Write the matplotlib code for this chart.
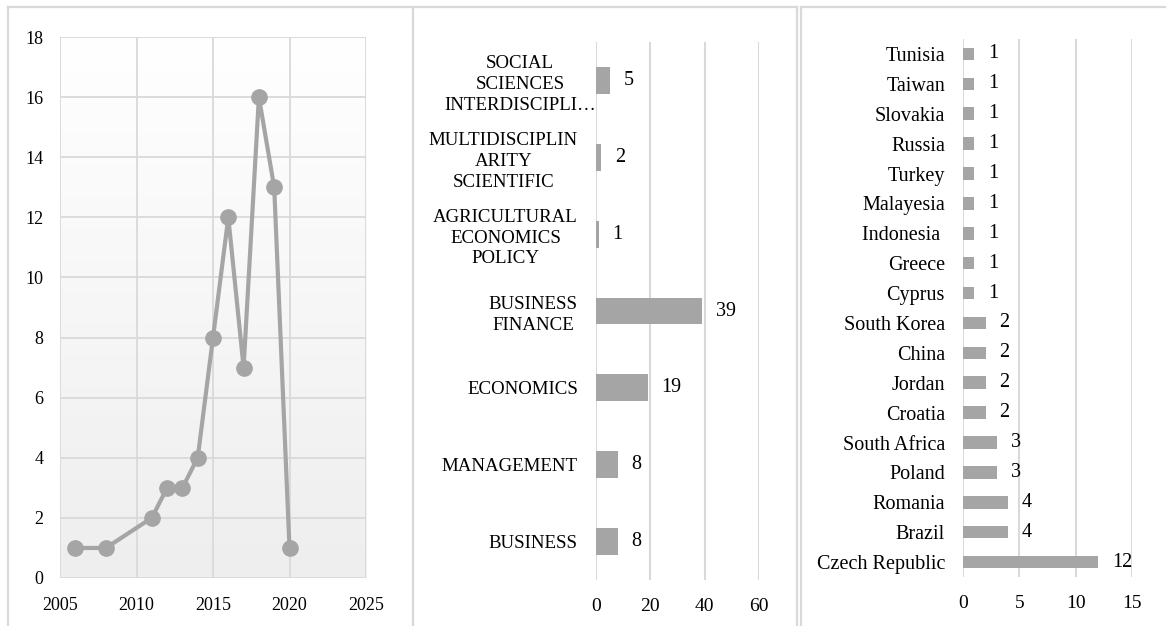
import matplotlib
matplotlib.use("Agg")
import matplotlib.pyplot as plt
import matplotlib.transforms as mtransforms
import numpy as np
from matplotlib.lines import Line2D

plt.rcParams["font.family"] = ["Liberation Serif", "DejaVu Serif"]

# panel 1: publications per year
years = [2006, 2008, 2011, 2012, 2013, 2014, 2015, 2016, 2017, 2018, 2019, 2020]
counts = [1, 1, 2, 3, 3, 4, 8, 12, 7, 16, 13, 1]

# panel 2: research areas (bottom to top)
areas = ["BUSINESS", "MANAGEMENT", "ECONOMICS", "BUSINESS\nFINANCE",
         "AGRICULTURAL\nECONOMICS\nPOLICY", "MULTIDISCIPLIN\nARITY\nSCIENTIFIC",
         "SOCIAL\nSCIENCES\nINTERDISCIPLI\u2026"]
area_counts = [8, 8, 19, 39, 1, 2, 5]

# panel 3: countries (bottom to top)
countries = ["Czech Republic", "Brazil", "Romania", "Poland", "South Africa", "Croatia",
             "Jordan", "China", "South Korea", "Cyprus", "Greece", "Indonesia ",
             "Malayesia", "Turkey", "Russia", "Slovakia", "Taiwan", "Tunisia"]
country_counts = [12, 4, 4, 3, 3, 2, 2, 2, 2, 1, 1, 1, 1, 1, 1, 1, 1, 1]

W, H = 1166, 626
GREY = "#a5a5a5"
GRID = "#d9d9d9"
FS = 13

fig = plt.figure(figsize=(W / 100, H / 100), dpi=100)


def px_axes(x0, x1, ytop, ybot):
    return fig.add_axes([x0 / W, 1 - ybot / H, (x1 - x0) / W, (ybot - ytop) / H])


# outer frames
frame_kw = dict(color=GRID, lw=1.6, transform=fig.transFigure)
fig.add_artist(Line2D([8 / W, 797 / W], [1 - 7 / H] * 2, **frame_kw))
fig.add_artist(Line2D([801 / W, 1], [1 - 7 / H] * 2, **frame_kw))
for xv in [8, 413, 797, 801]:
    fig.add_artist(Line2D([xv / W] * 2, [0, 1 - 7 / H], **frame_kw))

# 1. line chart
ax1 = px_axes(60, 366, 37, 578)
grad = np.linspace(0, 1, 256).reshape(-1, 1)
ax1.imshow(grad, extent=[0, 1, 0, 1], transform=ax1.transAxes, aspect="auto",
           cmap=matplotlib.colors.LinearSegmentedColormap.from_list("g", ["#ffffff", "#eeeeee"]),
           zorder=0)
ax1.plot(years, counts, color=GREY, lw=3, marker="o", markersize=11, zorder=3)
ax1.set_xlim(2005, 2025)
ax1.set_ylim(0, 18)
ax1.set_xticks([2005, 2010, 2015, 2020, 2025])
ax1.set_yticks(range(0, 19, 2))
ax1.grid(True, color=GRID, lw=1.3, zorder=1)
ax1.set_axisbelow(True)
for s in ax1.spines.values():
    s.set_visible(False)
ax1.tick_params(length=0, labelsize=FS, pad=12)
ax1.tick_params(axis="x", pad=14)


def bar_panel(ax, labels, vals, xmax, xticks, height, lab_fs):
    y = np.arange(len(labels))
    bars = ax.barh(y, vals, height=height, color=GREY, zorder=3)
    ax.set_xlim(0, xmax)
    ax.set_ylim(-0.5, len(labels) - 0.5)
    ax.set_xticks(xticks)
    ax.set_yticks(y)
    ax.set_yticklabels(labels, multialignment="center", linespacing=1.3)
    ax.grid(axis="x", color=GRID, lw=1.5, zorder=0)
    ax.grid(axis="y", visible=False)
    for s in ax.spines.values():
        s.set_visible(False)
    ax.tick_params(length=0, labelsize=14)
    ax.tick_params(axis="y", pad=13, labelsize=lab_fs)
    ax.tick_params(axis="x", pad=13)
    for b, v in zip(bars, vals):
        ax.annotate(str(v), xy=(b.get_width(), b.get_y() + b.get_height() / 2),
                    xytext=(10, 0), textcoords="offset points",
                    ha="left", va="center", fontsize=14.5)


# 2. research areas
ax2 = px_axes(596, 759, 42, 580)
bar_panel(ax2, areas, area_counts, 60, [0, 20, 40, 60], 0.35, 13.6)
# the truncated label overflows to the right in the original
lab = ax2.get_yticklabels()[-1]
lab.set_transform(lab.get_transform()
                  + mtransforms.ScaledTranslation(18 / 100, 0, fig.dpi_scale_trans))

# 3. countries
ax3 = px_axes(963, 1132, 39, 577)
bar_panel(ax3, countries, country_counts, 15, [0, 5, 10, 15], 0.42, 14.5)

fig.savefig("out.png", dpi=100)
